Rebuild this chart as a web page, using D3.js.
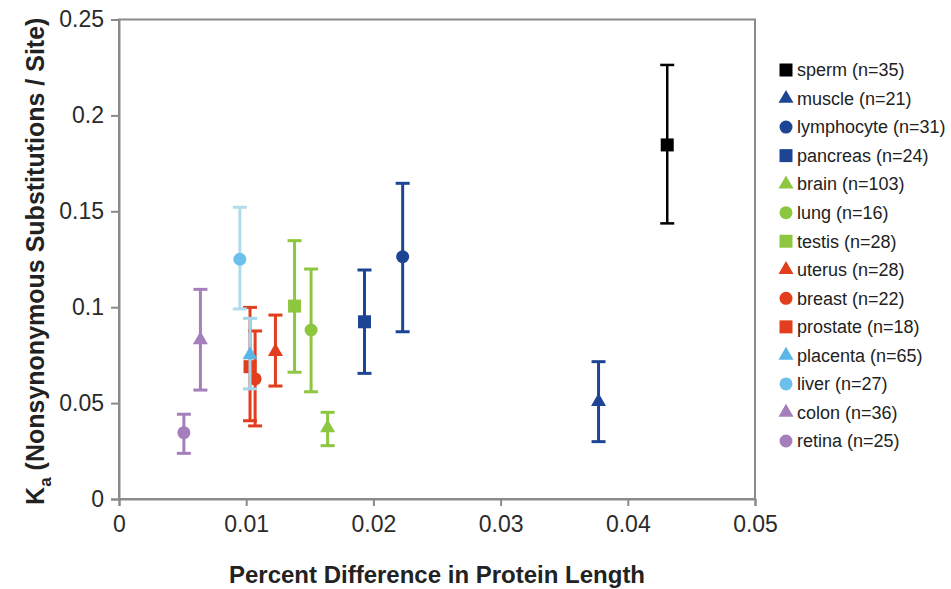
<!DOCTYPE html>
<html>
<head>
<meta charset="utf-8">
<script src="https://cdn.jsdelivr.net/npm/d3@7"></script>
<style>
  body { margin: 0; background: #fff; }
  svg { font-family: Arial, "Liberation Sans", sans-serif; }
</style>
</head>
<body>
<svg id="chart" width="951" height="589"></svg>
<script>
// tissues, in legend order
var tissues = ["sperm", "muscle", "lymphocyte", "pancreas", "brain", "lung", "testis",
    "uterus", "breast", "prostate", "placenta", "liver", "colon", "retina"];
var counts = [35, 21, 31, 24, 103, 16, 28, 28, 22, 18, 65, 27, 36, 25];
var shapes = ["square", "triangle", "circle", "square", "triangle", "circle", "square",
    "triangle", "circle", "square", "triangle", "circle", "triangle", "circle"];
var markerColors = ["#000000", "#1d4594", "#1d4594", "#1d4594", "#8dc63f", "#8dc63f", "#8dc63f",
    "#e23d1c", "#e23d1c", "#e23d1c", "#5ab6e6", "#6cc0ec", "#a47fbb", "#a47fbb"];
var barColors = ["#000000", "#1d4594", "#1d4594", "#1d4594", "#8dc63f", "#8dc63f", "#8dc63f",
    "#e23d1c", "#e23d1c", "#e23d1c", "#a3d6ea", "#b3dcea", "#a47fbb", "#a47fbb"];

// percent difference in protein length
var xVals = [0.0431, 0.0377, 0.0223, 0.0193, 0.0164, 0.0151, 0.0138,
    0.0123, 0.0107, 0.0103, 0.0103, 0.0095, 0.0064, 0.0051];
// Ka and error bar ends
var kaVals = [0.1846, 0.0507, 0.1263, 0.0924, 0.0370, 0.0881, 0.1006,
    0.0768, 0.0626, 0.0690, 0.0751, 0.1250, 0.0829, 0.0346];
var kaHigh = [0.2263, 0.0716, 0.1646, 0.1194, 0.0452, 0.1199, 0.1347,
    0.0959, 0.0876, 0.0999, 0.0942, 0.1521, 0.1093, 0.0442];
var kaLow = [0.1437, 0.0299, 0.0872, 0.0655, 0.0278, 0.0559, 0.0661,
    0.0589, 0.0381, 0.0408, 0.0574, 0.0991, 0.0568, 0.0238];

var xTicks = [0, 0.01, 0.02, 0.03, 0.04, 0.05];
var yTicks = [0, 0.05, 0.1, 0.15, 0.2, 0.25];

var svg = d3.select("#chart");
var plot = { left: 119, right: 755, top: 19.5, bottom: 499 };

var x = d3.scaleLinear().domain([0, 0.05]).range([plot.left, plot.right]);
var y = d3.scaleLinear().domain([0, 0.25]).range([plot.bottom, plot.top]);

var axisColor = "#8a8a8a";

// plot border
svg.append("rect")
    .attr("x", plot.left)
    .attr("y", plot.top)
    .attr("width", plot.right - plot.left)
    .attr("height", plot.bottom - plot.top)
    .attr("fill", "none")
    .attr("stroke", axisColor)
    .attr("stroke-width", 2);

var yAxis = svg.append("g")
    .attr("transform", "translate(" + plot.left + ",0)")
    .call(d3.axisLeft(y).tickValues(yTicks).tickSize(8).tickPadding(7)
        .tickFormat(function (d) { return d3.format("")(+d.toFixed(2)); }));

var xAxis = svg.append("g")
    .attr("transform", "translate(0," + plot.bottom + ")")
    .call(d3.axisBottom(x).tickValues(xTicks).tickSize(7).tickPadding(5)
        .tickFormat(function (d) { return d3.format("")(+d.toFixed(2)); }));

[xAxis, yAxis].forEach(function (a) {
    a.select(".domain").attr("stroke", axisColor).attr("stroke-width", 2);
    a.selectAll(".tick line").attr("stroke", axisColor).attr("stroke-width", 2);
    a.selectAll(".tick text")
        .attr("fill", "#2a2a2a")
        .style("font-size", "23px")
        .style("font-family", "Arial, 'Liberation Sans', sans-serif");
});
xAxis.selectAll(".tick text").attr("dy", "0.9em");

// axis titles
svg.append("text")
    .attr("x", (plot.left + plot.right) / 2)
    .attr("y", 577)
    .attr("text-anchor", "middle")
    .attr("dominant-baseline", "middle")
    .style("font-size", "24px")
    .style("font-weight", "bold")
    .attr("fill", "#222")
    .text("Percent Difference in Protein Length");

var yTitle = svg.append("text")
    .attr("transform", "translate(37," + ((plot.top + plot.bottom) / 2 + 2) + ") rotate(-90)")
    .attr("text-anchor", "middle")
    .attr("dominant-baseline", "middle")
    .style("font-size", "25px")
    .style("font-weight", "bold")
    .attr("fill", "#222");
yTitle.append("tspan").text("K");
yTitle.append("tspan").attr("baseline-shift", "sub").style("font-size", "17px").text("a");
yTitle.append("tspan").text(" (Nonsynonymous Substitutions / Site)");

function symbolFor(shape, size) {
    var type = shape === "square" ? d3.symbolSquare
        : shape === "triangle" ? d3.symbolTriangle : d3.symbolCircle;
    var area = shape === "square" ? size * size
        : shape === "triangle" ? size * size * Math.sqrt(3) / 4
        : Math.PI * size * size / 4;
    return d3.symbol().type(type).size(area)();
}

var series = tissues.map(function (t, i) {
    return { name: t, n: counts[i], shape: shapes[i], color: markerColors[i], barColor: barColors[i],
        x: xVals[i], y: kaVals[i], hi: kaHigh[i], lo: kaLow[i] };
});

var capHalf = 7;
var g = svg.append("g");
series.forEach(function (d, i) {
    var s = g.append("g");
    var bw = i === 0 ? 2.5 : 3;
    s.append("line")
        .attr("x1", x(d.x)).attr("x2", x(d.x))
        .attr("y1", y(d.lo)).attr("y2", y(d.hi))
        .attr("stroke", d.barColor).attr("stroke-width", bw);
    [d.lo, d.hi].forEach(function (v) {
        s.append("line")
            .attr("x1", x(d.x) - capHalf).attr("x2", x(d.x) + capHalf)
            .attr("y1", y(v)).attr("y2", y(v))
            .attr("stroke", d.barColor).attr("stroke-width", bw);
    });
    s.append("path")
        .attr("d", symbolFor(d.shape, d.shape === "triangle" ? 15 : 13))
        .attr("transform", "translate(" + x(d.x) + "," + y(d.y) + ")")
        .attr("fill", d.color);
});

// legend
var legend = svg.selectAll(".legendItem")
    .data(series)
    .enter()
    .append("g")
    .attr("class", "legendItem")
    .attr("transform", function (d, i) { return "translate(786," + (70 + i * 28.54) + ")"; });

legend.append("path")
    .attr("d", function (d) { return symbolFor(d.shape, d.shape === "triangle" ? 15 : 13); })
    .attr("fill", function (d) { return d.color; });

legend.append("text")
    .attr("x", 11)
    .attr("dy", "0.35em")
    .style("font-size", "18px")
    .attr("fill", "#222")
    .text(function (d) { return d.name + " (n=" + d.n + ")"; });
</script>
</body>
</html>
